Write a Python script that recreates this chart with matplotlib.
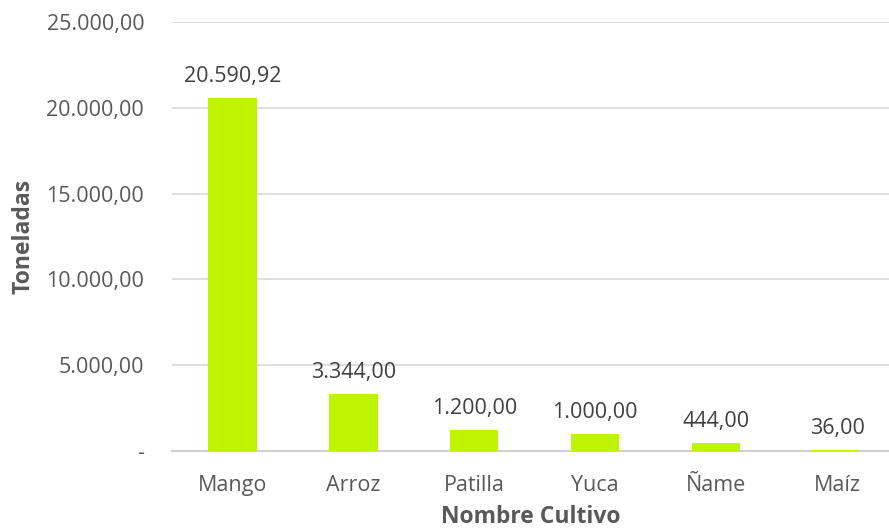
import matplotlib.pyplot as plt
from matplotlib.ticker import FuncFormatter

# Data
cultivos = ["Mango", "Arroz", "Patilla", "Yuca", "Ñame", "Maíz"]
toneladas = [20590.92, 3344.00, 1200.00, 1000.00, 444.00, 36.00]
y_ticks = [0, 5000, 10000, 15000, 20000, 25000]


def fmt_es(v):
    # 20590.92 -> 20.590,92 ; 0 -> "-"
    if v == 0:
        return "-"
    s = f"{v:,.2f}"
    return s.replace(",", "X").replace(".", ",").replace("X", ".")


plt.rcParams["font.family"] = ["Open Sans", "DejaVu Sans"]
gray = "#595959"

fig = plt.figure(figsize=(8.89, 5.31), dpi=100)
ax = fig.add_axes([172 / 889, 1 - 451 / 531, (889 - 172) / 889, (451 - 22) / 531])

x = range(len(cultivos))
bars = ax.bar(x, toneladas, width=0.4, color="#BEF400", zorder=3)

for b, v in zip(bars, toneladas):
    ax.annotate(fmt_es(v), (b.get_x() + b.get_width() / 2, v),
                xytext=(0, 8), textcoords="offset points",
                ha="center", va="bottom", fontsize=15.5, color="#404040")

ax.set_xlim(-0.5, 5.43)
ax.set_ylim(0, 25000)
ax.set_yticks(y_ticks)
ax.yaxis.set_major_formatter(FuncFormatter(lambda v, p: fmt_es(v)))
ax.set_xticks(list(x))
ax.set_xticklabels(cultivos)

ax.grid(axis="y", color="#d9d9d9", linewidth=1.2, zorder=0)
for s in ["top", "right", "left"]:
    ax.spines[s].set_visible(False)
ax.spines["bottom"].set_color("#d0d0d0")
ax.spines["bottom"].set_linewidth(1.5)
ax.tick_params(axis="both", length=0, labelsize=15.5, labelcolor=gray)
ax.tick_params(axis="y", pad=20)
ax.tick_params(axis="x", pad=17)

ax.set_ylabel("Toneladas", fontsize=16.5, fontweight="bold", color=gray, labelpad=8)
ax.set_xlabel("Nombre Cultivo", fontsize=16.5, fontweight="bold", color=gray, labelpad=7)

fig.savefig("out.png", dpi=100)
